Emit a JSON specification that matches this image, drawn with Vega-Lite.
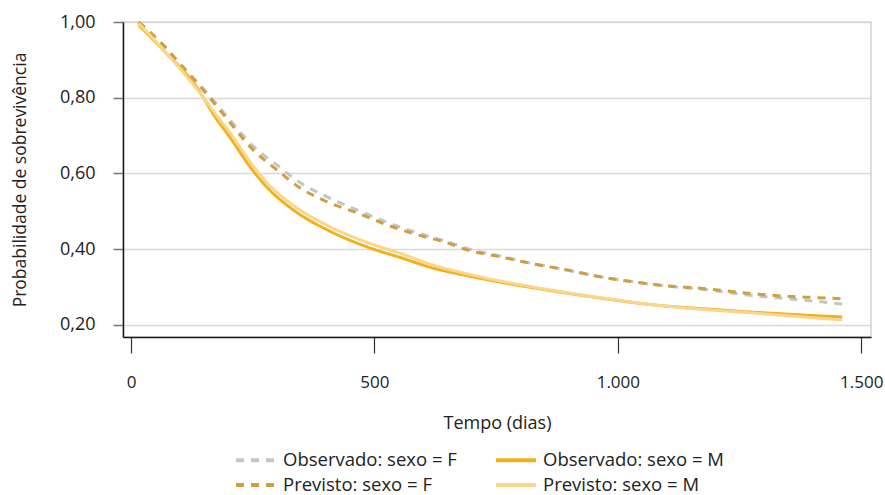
{
  "$schema": "https://vega.github.io/schema/vega-lite/v6.json",
  "autosize": {"type": "none"},
  "padding": {"left": 123, "top": 22, "right": 14, "bottom": 158},
  "width": 748,
  "height": 315,
  "config": {
    "font": "Open Sans",
    "view": {"stroke": "#d4d4d4", "strokeWidth": 1.5},
    "background": "white"
  },
  "data": {
    "values": [
      {"serie": "Observado: sexo = F", "t": 16, "s": 1.0},
      {"serie": "Observado: sexo = F", "t": 66, "s": 0.94},
      {"serie": "Observado: sexo = F", "t": 107, "s": 0.882},
      {"serie": "Observado: sexo = F", "t": 150, "s": 0.822},
      {"serie": "Observado: sexo = F", "t": 191, "s": 0.76},
      {"serie": "Observado: sexo = F", "t": 251, "s": 0.672},
      {"serie": "Observado: sexo = F", "t": 300, "s": 0.622},
      {"serie": "Observado: sexo = F", "t": 347, "s": 0.576},
      {"serie": "Observado: sexo = F", "t": 403, "s": 0.538},
      {"serie": "Observado: sexo = F", "t": 464, "s": 0.504},
      {"serie": "Observado: sexo = F", "t": 526, "s": 0.471},
      {"serie": "Observado: sexo = F", "t": 588, "s": 0.443},
      {"serie": "Observado: sexo = F", "t": 649, "s": 0.42},
      {"serie": "Observado: sexo = F", "t": 690, "s": 0.402},
      {"serie": "Observado: sexo = F", "t": 758, "s": 0.382},
      {"serie": "Observado: sexo = F", "t": 826, "s": 0.362},
      {"serie": "Observado: sexo = F", "t": 896, "s": 0.345},
      {"serie": "Observado: sexo = F", "t": 964, "s": 0.327},
      {"serie": "Observado: sexo = F", "t": 1031, "s": 0.314},
      {"serie": "Observado: sexo = F", "t": 1101, "s": 0.302},
      {"serie": "Observado: sexo = F", "t": 1169, "s": 0.295},
      {"serie": "Observado: sexo = F", "t": 1272, "s": 0.278},
      {"serie": "Observado: sexo = F", "t": 1340, "s": 0.27},
      {"serie": "Observado: sexo = F", "t": 1410, "s": 0.262},
      {"serie": "Observado: sexo = F", "t": 1461, "s": 0.255},

      {"serie": "Previsto: sexo = F", "t": 16, "s": 1.0},
      {"serie": "Previsto: sexo = F", "t": 66, "s": 0.939},
      {"serie": "Previsto: sexo = F", "t": 107, "s": 0.879},
      {"serie": "Previsto: sexo = F", "t": 150, "s": 0.818},
      {"serie": "Previsto: sexo = F", "t": 191, "s": 0.754},
      {"serie": "Previsto: sexo = F", "t": 251, "s": 0.662},
      {"serie": "Previsto: sexo = F", "t": 300, "s": 0.609},
      {"serie": "Previsto: sexo = F", "t": 347, "s": 0.562},
      {"serie": "Previsto: sexo = F", "t": 403, "s": 0.525},
      {"serie": "Previsto: sexo = F", "t": 464, "s": 0.496},
      {"serie": "Previsto: sexo = F", "t": 526, "s": 0.464},
      {"serie": "Previsto: sexo = F", "t": 588, "s": 0.438},
      {"serie": "Previsto: sexo = F", "t": 649, "s": 0.417},
      {"serie": "Previsto: sexo = F", "t": 690, "s": 0.398},
      {"serie": "Previsto: sexo = F", "t": 758, "s": 0.38},
      {"serie": "Previsto: sexo = F", "t": 826, "s": 0.361},
      {"serie": "Previsto: sexo = F", "t": 896, "s": 0.345},
      {"serie": "Previsto: sexo = F", "t": 964, "s": 0.327},
      {"serie": "Previsto: sexo = F", "t": 1031, "s": 0.314},
      {"serie": "Previsto: sexo = F", "t": 1101, "s": 0.303},
      {"serie": "Previsto: sexo = F", "t": 1169, "s": 0.297},
      {"serie": "Previsto: sexo = F", "t": 1272, "s": 0.283},
      {"serie": "Previsto: sexo = F", "t": 1340, "s": 0.276},
      {"serie": "Previsto: sexo = F", "t": 1410, "s": 0.272},
      {"serie": "Previsto: sexo = F", "t": 1461, "s": 0.269},

      {"serie": "Observado: sexo = M", "t": 16, "s": 0.992},
      {"serie": "Observado: sexo = M", "t": 70, "s": 0.921},
      {"serie": "Observado: sexo = M", "t": 136, "s": 0.826},
      {"serie": "Observado: sexo = M", "t": 173, "s": 0.749},
      {"serie": "Observado: sexo = M", "t": 203, "s": 0.696},
      {"serie": "Observado: sexo = M", "t": 245, "s": 0.617},
      {"serie": "Observado: sexo = M", "t": 279, "s": 0.564},
      {"serie": "Observado: sexo = M", "t": 333, "s": 0.504},
      {"serie": "Observado: sexo = M", "t": 403, "s": 0.451},
      {"serie": "Observado: sexo = M", "t": 485, "s": 0.406},
      {"serie": "Observado: sexo = M", "t": 553, "s": 0.378},
      {"serie": "Observado: sexo = M", "t": 621, "s": 0.35},
      {"serie": "Observado: sexo = M", "t": 690, "s": 0.33},
      {"serie": "Observado: sexo = M", "t": 758, "s": 0.313},
      {"serie": "Observado: sexo = M", "t": 826, "s": 0.298},
      {"serie": "Observado: sexo = M", "t": 896, "s": 0.284},
      {"serie": "Observado: sexo = M", "t": 964, "s": 0.271},
      {"serie": "Observado: sexo = M", "t": 1066, "s": 0.254},
      {"serie": "Observado: sexo = M", "t": 1204, "s": 0.24},
      {"serie": "Observado: sexo = M", "t": 1272, "s": 0.234},
      {"serie": "Observado: sexo = M", "t": 1340, "s": 0.229},
      {"serie": "Observado: sexo = M", "t": 1410, "s": 0.224},
      {"serie": "Observado: sexo = M", "t": 1461, "s": 0.221},

      {"serie": "Previsto: sexo = M", "t": 16, "s": 0.996},
      {"serie": "Previsto: sexo = M", "t": 70, "s": 0.922},
      {"serie": "Previsto: sexo = M", "t": 140, "s": 0.815},
      {"serie": "Previsto: sexo = M", "t": 175, "s": 0.755},
      {"serie": "Previsto: sexo = M", "t": 203, "s": 0.708},
      {"serie": "Previsto: sexo = M", "t": 245, "s": 0.63},
      {"serie": "Previsto: sexo = M", "t": 279, "s": 0.576},
      {"serie": "Previsto: sexo = M", "t": 333, "s": 0.516},
      {"serie": "Previsto: sexo = M", "t": 403, "s": 0.463},
      {"serie": "Previsto: sexo = M", "t": 485, "s": 0.418},
      {"serie": "Previsto: sexo = M", "t": 553, "s": 0.389},
      {"serie": "Previsto: sexo = M", "t": 621, "s": 0.358},
      {"serie": "Previsto: sexo = M", "t": 690, "s": 0.335},
      {"serie": "Previsto: sexo = M", "t": 758, "s": 0.316},
      {"serie": "Previsto: sexo = M", "t": 826, "s": 0.3},
      {"serie": "Previsto: sexo = M", "t": 896, "s": 0.285},
      {"serie": "Previsto: sexo = M", "t": 964, "s": 0.272},
      {"serie": "Previsto: sexo = M", "t": 1066, "s": 0.254},
      {"serie": "Previsto: sexo = M", "t": 1204, "s": 0.238},
      {"serie": "Previsto: sexo = M", "t": 1272, "s": 0.232},
      {"serie": "Previsto: sexo = M", "t": 1340, "s": 0.225},
      {"serie": "Previsto: sexo = M", "t": 1410, "s": 0.218},
      {"serie": "Previsto: sexo = M", "t": 1461, "s": 0.213}
    ]
  },
  "mark": {"type": "line", "strokeWidth": 3, "interpolate": "monotone"},
  "encoding": {
    "x": {
      "field": "t",
      "type": "quantitative",
      "scale": {"domain": [-16.4, 1520], "nice": false, "zero": false},
      "axis": {
        "values": [0, 500, 1000, 1500],
        "labelExpr": "replace(format(datum.value, ',d'), ',', '.')",
        "title": "Tempo (dias)",
        "grid": false,
        "domainColor": "#1a1a1a",
        "domainWidth": 1.5,
        "tickColor": "#333333",
        "tickSize": 16,
        "tickWidth": 1.2,
        "labelPadding": 21,
        "labelFontSize": 17,
        "labelColor": "#222222",
        "titleFontSize": 18,
        "titleFontWeight": "normal",
        "titleColor": "#222222",
        "titlePadding": 24
      }
    },
    "y": {
      "field": "s",
      "type": "quantitative",
      "scale": {"domain": [0.168, 1.0], "nice": false, "zero": false},
      "axis": {
        "values": [0.2, 0.4, 0.6, 0.8, 1.0],
        "labelExpr": "replace(format(datum.value, '.2f'), '.', ',')",
        "title": "Probabilidade de sobrevivência",
        "grid": true,
        "gridColor": "#d9d9d9",
        "gridWidth": 1.5,
        "domainColor": "#1a1a1a",
        "domainWidth": 1.5,
        "tickColor": "#777777",
        "tickSize": 10,
        "tickWidth": 1.5,
        "labelPadding": 18,
        "labelFontSize": 18,
        "labelColor": "#222222",
        "titleFontSize": 17.5,
        "titleFontWeight": "normal",
        "titleColor": "#222222",
        "titlePadding": 30
      }
    },
    "color": {
      "field": "serie",
      "type": "nominal",
      "scale": {
        "domain": ["Observado: sexo = F", "Previsto: sexo = F", "Observado: sexo = M", "Previsto: sexo = M"],
        "range": ["#c4c4c4", "#cf9e3e", "#f2b11c", "#fad58c"]
      },
      "legend": {
        "title": null,
        "orient": "none",
        "legendX": 111,
        "legendY": 426,
        "columns": 2,
        "columnPadding": 31,
        "rowPadding": 3,
        "symbolType": "M-1,0H3",
        "symbolSize": 400,
        "symbolStrokeWidth": 4,
        "labelFontSize": 18.5,
        "labelLimit": 400,
        "labelColor": "#222222",
        "labelOffset": 25
      }
    },
    "strokeDash": {
      "field": "serie",
      "type": "nominal",
      "scale": {
        "domain": ["Observado: sexo = F", "Previsto: sexo = F", "Observado: sexo = M", "Previsto: sexo = M"],
        "range": [[8, 7], [8, 7], [1, 0], [1, 0]]
      },
      "legend": {
        "title": null,
        "orient": "none",
        "legendX": 111,
        "legendY": 426,
        "columns": 2,
        "columnPadding": 31,
        "rowPadding": 3,
        "symbolType": "M-1,0H3",
        "symbolSize": 400,
        "symbolStrokeWidth": 4,
        "labelFontSize": 18.5,
        "labelLimit": 400,
        "labelColor": "#222222",
        "labelOffset": 25
      }
    },
    "order": {"field": "t", "type": "quantitative"}
  }
}
